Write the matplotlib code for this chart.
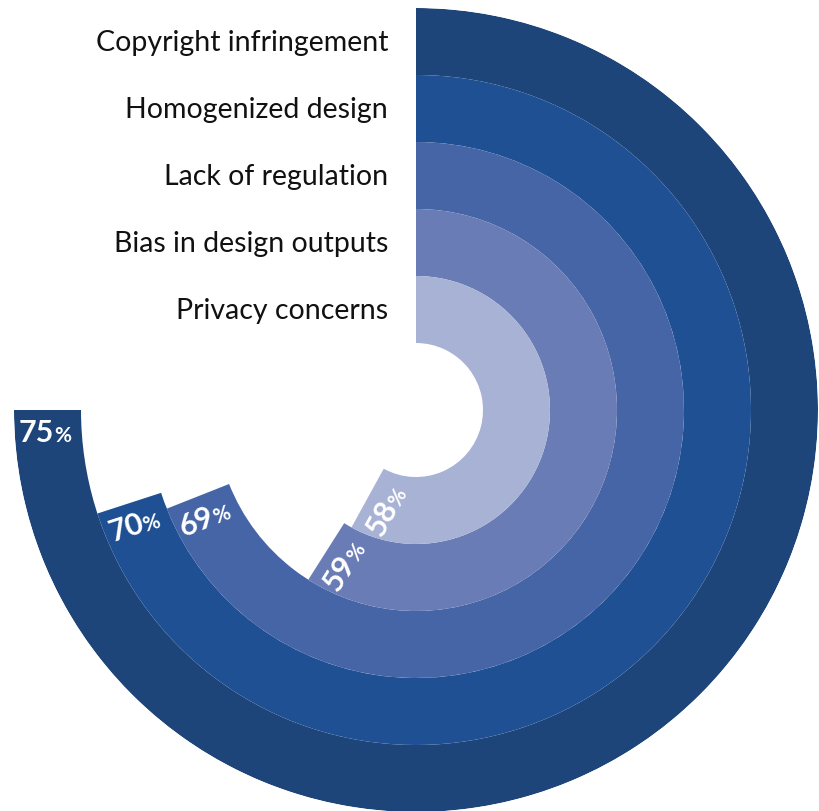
import numpy as np
import matplotlib.pyplot as plt

categories = ["Copyright infringement", "Homogenized design", "Lack of regulation",
              "Bias in design outputs", "Privacy concerns"]
values = [75, 70, 69, 59, 58]
colors = ["#1D457A", "#1F5094", "#4665A6", "#697CB5", "#A8B2D5"]

W, H = 819, 811
cx, cy, R = 416, 410, 402   # center and outer radius in pixels
PT = 72 / 100                # pixels -> points

fig = plt.figure(figsize=(W / 100, H / 100), dpi=100)
ax = fig.add_axes([(cx - R) / W, (H - cy - R) / H, 2 * R / W, 2 * R / H],
                  projection="polar")
ax.set_theta_zero_location("N")
ax.set_theta_direction(-1)
n = len(values)
ax.set_ylim(0, n + 1)
ax.set_axis_off()

for i, (cat, val, col) in enumerate(zip(categories, values, colors)):
    bottom = n - i
    r_mid = bottom + 0.5
    theta = val / 100 * 2 * np.pi
    ax.bar(0, 1, width=theta, bottom=bottom, align="edge", color=col,
           edgecolor="none", linewidth=0)

    # category name to the left of the ring start
    ax.annotate(cat, xy=(0, r_mid), xytext=(-28 * PT, -10 * PT),
                textcoords="offset points", ha="right", va="baseline",
                fontsize=20.5, family="Lato", color="#111111")

    # value label at the end of the bar, reading inward
    ang = np.deg2rad(90 - val / 100 * 360)
    u = np.array([-np.cos(ang), -np.sin(ang)])
    v = np.array([-u[1], u[0]])
    rot = np.rad2deg(np.arctan2(u[1], u[0]))
    off = (7 * u - 32 * v) * PT
    ax.annotate(f"{val}", xy=(theta, r_mid), xytext=off, textcoords="offset points",
                ha="right", va="baseline", rotation=rot, rotation_mode="anchor",
                fontsize=22, fontweight="bold", family="Lato", color="white")
    ax.annotate("%", xy=(theta, r_mid), xytext=off - 0.5 * PT * u,
                textcoords="offset points", ha="left", va="baseline",
                rotation=rot, rotation_mode="anchor",
                fontsize=15, fontweight="bold", family="Lato", color="white")

fig.savefig("out.png", dpi=100, facecolor="white")
